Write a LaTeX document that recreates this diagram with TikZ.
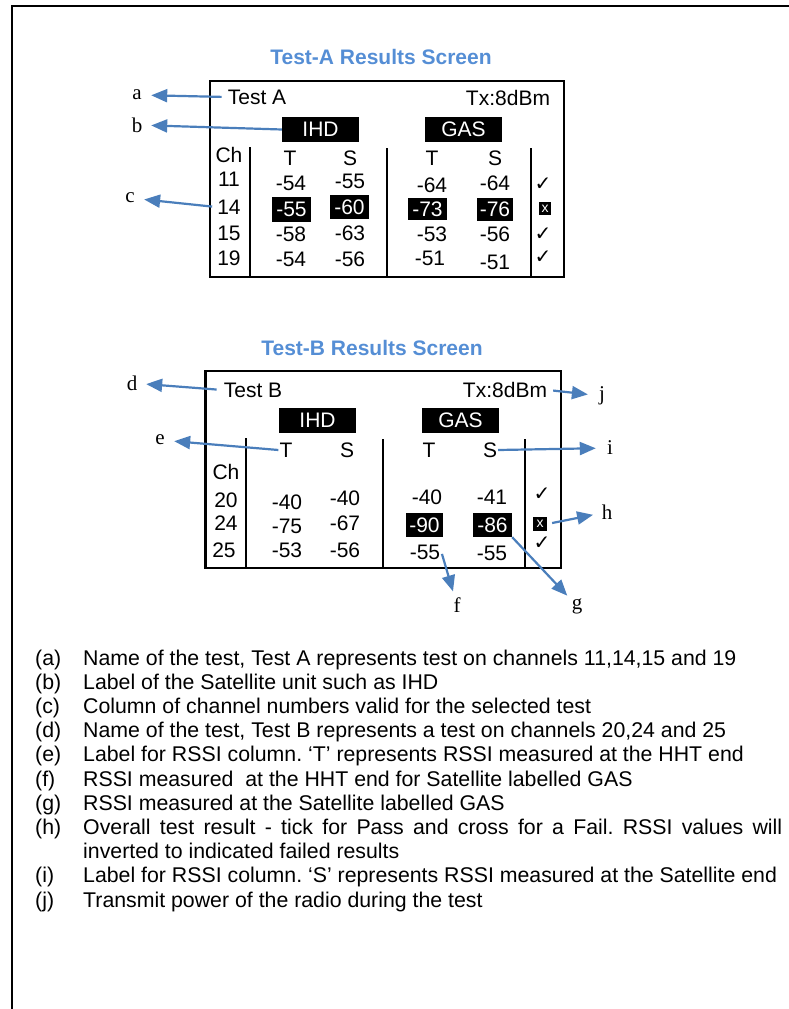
\documentclass[tikz,border=0pt]{standalone}
\usepackage{fontspec}
\setmainfont{Liberation Sans}
\newfontfamily\labfont{Liberation Serif}
\newfontfamily\tickfont{DejaVu Sans}
\usetikzlibrary{arrows.meta}
\definecolor{titleblue}{RGB}{85,142,213}
\definecolor{arrowblue}{RGB}{74,126,187}
\frenchspacing
\tikzset{
  boxtxt/.style={inner sep=1pt, font=\fontsize{21}{24}\selectfont},
  invbox/.style={fill=black, text=white, inner sep=0pt, font=\fontsize{21}{24}\selectfont},
  xbox/.style={fill=black, text=white, inner sep=0pt, font=\fontsize{14}{16}\selectfont},
  tick/.style={inner sep=0pt, font=\tickfont\fontsize{20}{22}\selectfont},
  lab/.style={circle, inner sep=0pt, minimum size=28pt, font=\labfont\fontsize{21}{24}\selectfont},
  arr/.style={draw=arrowblue, line width=2.2pt, -{Triangle[length=16pt,width=13pt]}},
  listtxt/.style={anchor=base west, inner sep=0pt, font=\frenchspacing\fontsize{21.3}{24}\selectfont}
}
\begin{document}
\begin{tikzpicture}[x=1pt,y=-1pt]
\useasboundingbox (0,0) rectangle (789,1009);
% outer frame
\draw[line width=2pt] (789,6) -- (12,6) -- (12,1009);

% Test A screen
\node[font=\bfseries\fontsize{21}{24}\selectfont, text=titleblue] (titleA) at (381,57) {Test-A Results Screen};
\draw[line width=2.5pt] (210,81) rectangle (564,277);
\draw[line width=2pt] (250,147) -- (250,277) (386.5,148) -- (386.5,277) (531,148) -- (531,277);
\foreach \nm/\x/\y/\t in {tA/257/97/Test A, txA/508/98/Tx:8dBm, chA/229/155/Ch,
  tA1/290/158/T, sA1/350/158/S, tA2/432/158/T, sA2/495/158/S,
  cA11/229/179/11, cA14/229/207/14, cA15/229/233/15, cA19/229/258/19,
  vA1/291/183/-54, vA2/350/181/-55, vA3/432/185/-64, vA4/495/183/-64,
  vA9/291/234/-58, vA10/350/233/-63, vA11/432/234/-53, vA12/495/234/-56,
  vA13/291/259/-54, vA14/350/259/-56, vA15/430/258/-51, vA16/495/262/-51}
  \node[boxtxt] (\nm) at (\x,\y) {\t};
\node[invbox, minimum width=77pt, minimum height=25pt] (ihdA) at (320.5,129.5) {IHD};
\node[invbox, minimum width=77pt, minimum height=25pt] (gasA) at (463.5,129.5) {GAS};
\foreach \nm/\x/\y/\w/\h/\t in {iA1/291.5/209.5/39/25/-55, iA2/349.5/207/39/24/-60,
  iA3/427.5/209/39/22/-73, iA4/495/209.5/36/23/-76}
  \node[invbox, minimum width=\w pt, minimum height=\h pt] (\nm) at (\x,\y) {\t};
\node[xbox, minimum width=12pt, minimum height=13pt] (xA) at (545,208.5) {x};
\foreach \nm/\y in {kA1/184, kA3/234, kA4/257}
  \node[tick] (\nm) at (543,\y) {✓};

% Test B screen
\node[font=\bfseries\fontsize{21}{24}\selectfont, text=titleblue] (titleB) at (372,348) {Test-B Results Screen};
\draw[line width=2.5pt] (205.5,371) rectangle (561,568);
\draw[line width=2pt] (246,438) -- (246,568) (383,439) -- (383,568) (525,439) -- (525,568);
\foreach \nm/\x/\y/\t in {tB/253/390/Test B, txB/505/390/Tx:8dBm,
  tB1/286/450/T, sB1/347/450/S, tB2/429/450/T, sB2/490/450/S,
  chB/226/472/Ch, cB20/226/500/20, cB24/226/523/24, cB25/224/550/25,
  vB1/287/502/-40, vB2/345/498/-40, vB3/427/497/-40, vB4/492/497/-41,
  vB5/287/526/-75, vB6/345/523/-67,
  vB9/287/550/-53, vB10/345/550/-56, vB11/425/552/-55, vB12/492/553/-55}
  \node[boxtxt] (\nm) at (\x,\y) {\t};
\node[invbox, minimum width=77pt, minimum height=25pt] (ihdB) at (317.5,420.5) {IHD};
\node[invbox, minimum width=77pt, minimum height=25pt] (gasB) at (460.5,420.5) {GAS};
\node[invbox, minimum width=37pt, minimum height=24pt] (iB1) at (424.5,525) {-90};
\node[invbox, minimum width=39pt, minimum height=24pt] (iB2) at (492.5,525) {-86};
\node[xbox, minimum width=14pt, minimum height=14pt] (xB) at (540,524) {x};
\foreach \nm/\y in {kB1/494, kB3/543}
  \node[tick] (\nm) at (542,\y) {✓};

% callout letters
\foreach \nm/\x/\y/\t in {la/137/95/a, lb/137/125/b, lc/130/198/c, ld/132/383/d, le/160/440/e,
  lf/457/605/f, lg/577/606/g, lh/607/512/h, li/610/448/i, lj/602/396/j}
  \node[lab] (\nm) at (\x,\y) {\t};
\draw[arr, shorten <=5pt] (tA.west) -- (la);
\draw[arr] (ihdA.west) -- (lb);
\draw[arr, shorten <=4pt] (cA14.west) -- (lc);
\draw[arr, shorten <=6pt] (tB.west) -- (ld);
\draw[arr] (tB1.west) -- (le);
\draw[arr, shorten <=2pt] (vB11.east) -- (lf);
\draw[arr] (iB2.south east) -- (lg);
\draw[arr, shorten <=5pt] (xB.east) -- (lh);
\draw[arr] (sB2.east) -- (li);
\draw[arr, shorten <=5pt] (txB.east) -- (lj);

% key
\foreach \k/\n/\t in {a/0/{Name of the test, Test A represents test on channels 11,14,15 and 19},
  b/1/{Label of the Satellite unit such as IHD},
  c/2/{Column of channel numbers valid for the selected test},
  d/3/{Name of the test, Test B represents a test on channels 20,24 and 25},
  e/4/{Label for RSSI column. ‘T’ represents RSSI measured at the HHT end},
  f/5/{RSSI measured~ at the HHT end for Satellite labelled GAS},
  g/6/{RSSI measured at the Satellite labelled GAS},
  i/9/{Label for RSSI column. ‘S’ represents RSSI measured at the Satellite end},
  j/10/{Transmit power of the radio during the test}} {
  \node[listtxt] (key\k) at (35,665+24.2*\n) {(\k)};
  \node[listtxt] (txt\k) at (83,665+24.2*\n) {\t};
}
\node[listtxt] (keyh) at (35,665+24.2*7) {(h)};
\node[listtxt] (txth) at (83,665+24.2*7) {\makebox[699pt][s]{Overall test result - tick for Pass and cross for a Fail. RSSI values will}};
\node[listtxt] (txth2) at (83,665+24.2*8) {inverted to indicated failed results};
\end{tikzpicture}
\end{document}
